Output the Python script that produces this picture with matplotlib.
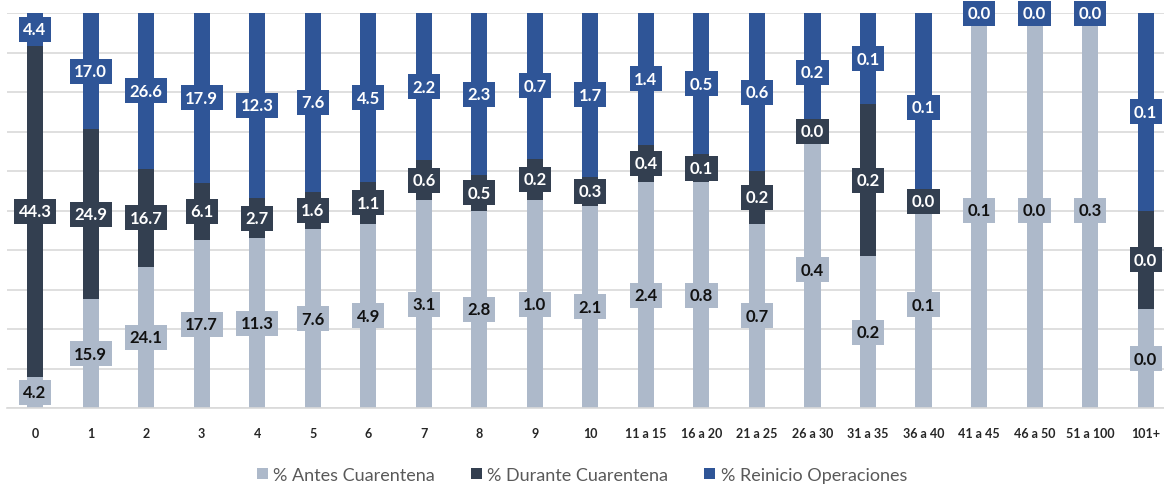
import numpy as np
import matplotlib
matplotlib.use('Agg')
import matplotlib.pyplot as plt
from matplotlib.patches import Patch

# Categorías y series
categorias = ['0', '1', '2', '3', '4', '5', '6', '7', '8', '9', '10',
              '11 a 15', '16 a 20', '21 a 25', '26 a 30', '31 a 35', '36 a 40',
              '41 a 45', '46 a 50', '51 a 100', '101+']
antes = [4.2, 15.9, 24.1, 17.7, 11.3, 7.6, 4.9, 3.1, 2.8, 1.0, 2.1,
         2.4, 0.8, 0.7, 0.42, 0.2, 0.11, 0.1, 0.04, 0.3, 0.03]
durante = [44.3, 24.9, 16.7, 6.1, 2.7, 1.6, 1.1, 0.6, 0.5, 0.2, 0.3,
           0.4, 0.1, 0.2, 0.0, 0.2, 0.0, 0.0, 0.0, 0.0, 0.03]
reinicio = [4.4, 17.0, 26.6, 17.9, 12.3, 7.6, 4.5, 2.2, 2.3, 0.7, 1.7,
            1.4, 0.5, 0.6, 0.18, 0.12, 0.1, 0.0, 0.0, 0.0, 0.06]

series = [
    ('% Antes Cuarentena', antes, '#adb9ca', '#111111'),
    ('% Durante Cuarentena', durante, '#333f50', 'white'),
    ('% Reinicio Operaciones', reinicio, '#2f5597', 'white'),
]

datos = np.array([antes, durante, reinicio])
totales = datos.sum(axis=0)
pct = datos / totales * 100

fig = plt.figure(figsize=(11.64, 4.85), dpi=100)
ax = fig.add_axes([7 / 1164, 76 / 485, 1 - 7 / 1164, 395 / 485])

x = np.arange(len(categorias))
ancho = 0.29
base = np.zeros(len(categorias))
for i, (nombre, vals, color, txt) in enumerate(series):
    ax.bar(x, pct[i], bottom=base, width=ancho, color=color, zorder=2)
    centros = base + pct[i] / 2
    for xi, yi, v in zip(x, centros, vals):
        ax.text(xi, yi, f'{v:.1f}', ha='center', va='center', fontsize=12,
                fontweight='bold', color=txt, family='Lato', zorder=5 + i,
                bbox=dict(boxstyle='square,pad=0.27', fc=color, ec='none'))
    base = base + pct[i]

ax.set_xlim(-0.505, 20.33)
ax.set_ylim(0, 100)
ax.set_yticks(np.arange(0, 101, 10))
ax.yaxis.grid(True, color='#d9d9d9', linewidth=1.2, zorder=0)
ax.set_yticklabels([])
ax.tick_params(axis='y', length=0)
ax.set_xticks(x)
ax.set_xticklabels(categorias, fontsize=9, fontweight='bold', family='Lato', color='#262626')
ax.tick_params(axis='x', length=0, pad=14)
for s in ['top', 'right', 'left']:
    ax.spines[s].set_visible(False)
ax.spines['bottom'].set_color('#d9d9d9')
ax.spines['bottom'].set_linewidth(1.2)
ax.set_axisbelow(True)

handles = [Patch(facecolor=c, edgecolor='none', label=n) for n, _, c, _ in series]
fig.legend(handles=handles, loc='center', bbox_to_anchor=(0.5, 9 / 485), ncol=3,
           frameon=False, handlelength=0.6, handleheight=0.6,
           handletextpad=0.3, columnspacing=2.0, labelcolor='#595959',
           prop={'family': 'Lato', 'size': 13})

fig.savefig('out.png', dpi=100)
